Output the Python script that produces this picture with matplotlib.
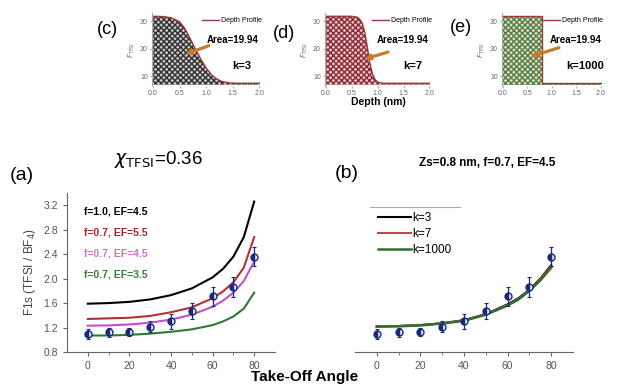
import numpy as np
import matplotlib
matplotlib.use('Agg')
import matplotlib.pyplot as plt

plt.rcParams['font.family'] = ['Liberation Sans', 'DejaVu Sans']

W, H = 621, 384

# take-off angle data (same in a and b)
angle = [0, 10, 20, 30, 40, 50, 60, 70, 80]
f1s = [1.10, 1.12, 1.13, 1.21, 1.30, 1.47, 1.71, 1.86, 2.36]
f1s_err = [0.08, 0.08, 0.07, 0.09, 0.12, 0.13, 0.16, 0.16, 0.16]

# model curves, panel (a)
ang_fit = [0, 10, 20, 30, 40, 50, 60, 65, 70, 75, 80]
fit_f10_ef45 = [1.59, 1.60, 1.62, 1.66, 1.73, 1.84, 2.02, 2.16, 2.36, 2.68, 3.26]
fit_f07_ef55 = [1.34, 1.35, 1.36, 1.39, 1.45, 1.53, 1.68, 1.79, 1.94, 2.18, 2.68]
fit_f07_ef45 = [1.23, 1.235, 1.25, 1.28, 1.33, 1.41, 1.54, 1.64, 1.77, 1.96, 2.28]
fit_f07_ef35 = [1.07, 1.07, 1.08, 1.10, 1.13, 1.17, 1.24, 1.30, 1.38, 1.51, 1.77]

# model curves, panel (b)
fit_k3 = [1.22, 1.225, 1.24, 1.27, 1.32, 1.42, 1.58, 1.68, 1.82, 2.00, 2.22]
fit_k7 = [1.22, 1.225, 1.24, 1.27, 1.32, 1.42, 1.57, 1.67, 1.81, 1.99, 2.20]
fit_k1000 = [1.215, 1.22, 1.235, 1.265, 1.31, 1.41, 1.56, 1.66, 1.80, 1.97, 2.18]

# depth profiles (c), (d), (e)
depth_c = [0, 0.2, 0.35, 0.5, 0.6, 0.7, 0.8, 0.9, 1.0, 1.1, 1.2, 1.3, 1.45, 1.6, 2.0]
prof_c = [31.8, 31.7, 31.2, 29.8, 27.3, 23.6, 19.8, 16.2, 13.0, 10.6, 9.0, 8.1, 7.6, 7.5, 7.5]
depth_d = [0, 0.5, 0.6, 0.65, 0.7, 0.75, 0.8, 0.85, 0.9, 0.95, 1.0, 1.1, 2.0]
prof_d = [31.8, 31.8, 31.5, 30.8, 29.3, 26.0, 20.5, 14.5, 10.8, 8.8, 7.9, 7.5, 7.5]
depth_e = [0, 0.8, 0.8, 2.0]
prof_e = [31.8, 31.8, 7.5, 7.5]


def px_axes(x0, y0, x1, y1):
    return fig.add_axes([x0 / W, 1 - y1 / H, (x1 - x0) / W, (y1 - y0) / H])


def ptext(x, y, s, **kw):
    fig.text(x / W, 1 - y / H, s, **kw)


fig = plt.figure(figsize=(W / 100, H / 100), dpi=100)

navy = '#1a2a7a'
tick_col = '#555555'

# ---- panel (a)
ax = px_axes(67, 193, 275, 352)
ax.plot(ang_fit, fit_f10_ef45, color='black', lw=1.5)
ax.plot(ang_fit, fit_f07_ef55, color='#b03232', lw=1.5)
ax.plot(ang_fit, fit_f07_ef45, color='#c050d0', lw=1.5)
ax.plot(ang_fit, fit_f07_ef35, color='#2f7a2f', lw=1.5)
ax.errorbar(angle, f1s, yerr=f1s_err, fmt='o', color=navy, ms=5, fillstyle='left',
            markerfacecoloralt='#e8ecff', elinewidth=0.9, capsize=1.5, capthick=0.8)
ax.set_xlim(-10, 90)
ax.set_ylim(0.8, 3.4)
ax.set_xticks([0, 20, 40, 60, 80])
ax.set_xticks([10, 30, 50, 70], minor=True)
ax.set_yticks([0.8, 1.2, 1.6, 2.0, 2.4, 2.8, 3.2])
ax.set_yticklabels(['0.8', '1.2', '1.6', '2.0', '2.4', '2.8', '3.2'])
ax.spines[['top', 'right']].set_visible(False)
for s in ['left', 'bottom']:
    ax.spines[s].set_color('#666666')
ax.tick_params(colors='#666666', labelcolor=tick_col, labelsize=7.5, length=3)
ax.tick_params(which='minor', length=2, colors='#666666')
ax.set_ylabel('F1s (TFSI / BF$_4$)', fontsize=8.5, color='#444444', labelpad=4)

leg_a = [('f=1.0, EF=4.5', 'black'), ('f=0.7, EF=5.5', '#a02828'),
         ('f=0.7, EF=4.5', '#d070d0'), ('f=0.7, EF=3.5', '#3a7a3a')]
for i, (lab, c) in enumerate(leg_a):
    ptext(84, 212 + i * 20.7, lab, color=c, fontsize=7.5, fontweight='bold', va='center')

ptext(10, 175, '(a)', fontsize=14, va='center')
ptext(158, 159, r'$\chi_{\mathrm{TFSI}}$=0.36', fontsize=13.5, ha='center', va='center')

# ---- panel (b)
bx = px_axes(355, 193, 573, 352)
bx.plot(ang_fit, fit_k3, color='black', lw=1.5, label='k=3')
bx.plot(ang_fit, fit_k7, color='#c04848', lw=1.5, label='k=7')
bx.plot(ang_fit, fit_k1000, color='#2f6e2f', lw=1.8, label='k=1000')
bx.errorbar(angle, f1s, yerr=f1s_err, fmt='o', color=navy, ms=5, fillstyle='left',
            markerfacecoloralt='#e8ecff', elinewidth=0.9, capsize=1.5, capthick=0.8)
bx.set_xlim(-10, 90)
bx.set_ylim(0.8, 3.4)
bx.set_yticks([])
bx.set_xticks([0, 20, 40, 60, 80])
bx.set_xticks([10, 30, 50, 70], minor=True)
bx.spines[['top', 'right', 'left']].set_visible(False)
bx.spines['bottom'].set_color('#666666')
bx.tick_params(colors='#666666', labelcolor=tick_col, labelsize=7.5, length=3)
bx.tick_params(which='minor', length=2, colors='#666666')
bx.legend(loc='upper left', bbox_to_anchor=(0.085, 0.91), frameon=False, fontsize=8.5,
          handlelength=2.8, handletextpad=0.1, labelspacing=0.35, borderaxespad=0)
bx.plot([0.069, 0.482], [0.914, 0.914], transform=bx.transAxes, color='#aaaaaa', lw=0.8,
        clip_on=False)

ptext(335, 174, '(b)', fontsize=14, va='center')
ptext(487, 163, 'Zs=0.8 nm, f=0.7, EF=4.5', fontsize=8.5, fontweight='bold',
      ha='center', va='center')
ptext(305, 377, 'Take-Off Angle', fontsize=11, fontweight='bold', ha='center', va='center')

# ---- insets (c), (d), (e)
insets = [
    ((152, 262), depth_c, prof_c, '#c8c8c8', '#303030', '(c)', (97, 29), 'k=3'),
    ((325, 432), depth_d, prof_d, '#e8c8c8', '#8a2a38', '(d)', (273, 33), 'k=7'),
    ((502, 603), depth_e, prof_e, '#d8e2c8', '#5a7a44', '(e)', (450, 28), 'k=1000'),
]
arrows = [((1.1, 21.5), (0.55, 17.6)), ((1.25, 19.1), (0.69, 16.0)), ((1.2, 20.7), (0.5, 16.8))]

for (xr, dep, prof, fc, hc, tag, tpos, klab), (tail, head) in zip(insets, arrows):
    ix = px_axes(xr[0], 13, xr[1], 86)
    ix.fill_between(dep, prof, 7.0, facecolor=fc, edgecolor=hc, hatch='xxxxxx', lw=0)
    ix.plot(dep, prof, color='#9a3838', lw=1.0, label='Depth Profile')
    ix.set_xlim(-0.02, 2.05)
    ix.set_ylim(6.5, 33)
    ix.set_xticks([0, 0.5, 1.0, 1.5, 2.0])
    ix.set_xticklabels(['0.0', '0.5', '1.0', '1.5', '2.0'])
    ix.set_yticks([10, 20, 30])
    ix.spines[['top', 'right', 'bottom']].set_visible(False)
    ix.spines['left'].set_color('#aaaaaa')
    ix.tick_params(colors='#aaaaaa', labelcolor='#666666', labelsize=5, length=1.5, pad=1.5)
    ix.set_ylabel(r'$F_{TFSI}$', fontsize=5, color='#666666', labelpad=2)
    ix.legend(loc='upper right', frameon=False, fontsize=5, handlelength=2.4,
              borderaxespad=0.2, handletextpad=0.3, bbox_to_anchor=(1.04, 1.0))
    ix.annotate('', xy=head, xytext=tail,
                arrowprops=dict(arrowstyle='-|>', color='#c87a30', lw=2.3, mutation_scale=7))
    ix.text(0.73, 0.63, 'Area=19.94', transform=ix.transAxes, fontsize=7,
            fontweight='bold', ha='center', va='center')
    ix.text(0.82, 0.28, klab, transform=ix.transAxes, fontsize=8,
            fontweight='bold', ha='center', va='center')
    ptext(tpos[0], tpos[1], tag, fontsize=13, va='center')

ptext(378, 102, 'Depth (nm)', fontsize=7.5, fontweight='bold', ha='center', va='center')

fig.savefig('out.png', dpi=100)
